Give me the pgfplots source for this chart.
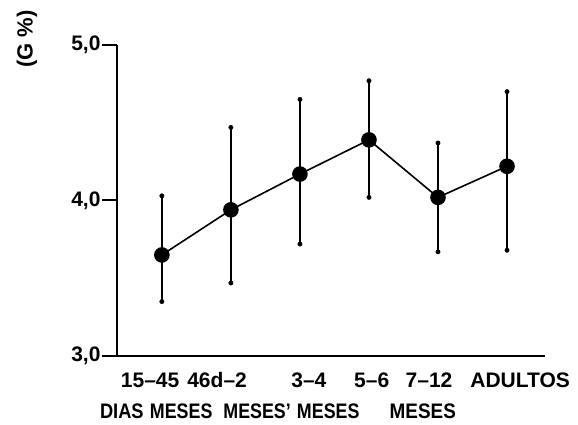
\documentclass[border=0pt]{standalone}
\usepackage{pgfplots}
\pgfplotsset{compat=1.18}
\usepackage{graphicx}
\usepackage{fontspec}
\setmainfont{Liberation Sans}
\tikzset{row2/.style={anchor=north, text height=15pt, text depth=0pt, inner xsep=0pt, font=\fontsize{21}{24}\selectfont\bfseries}}
\pgfplotstableread{
x y ep em
0 3.65 0.38 0.30
1 3.94 0.53 0.47
2 4.17 0.48 0.45
3 4.39 0.38 0.37
4 4.02 0.35 0.35
5 4.22 0.48 0.54
}\datatable
\begin{document}
\begin{tikzpicture}
\begin{axis}[
  scale only axis, width=428pt, height=311pt,
  xmin=-0.65, xmax=5.55, ymin=3, ymax=5,
  axis x line=bottom, axis y line=left,
  axis line style={-, line width=2pt},
  ytick={3,4,5}, yticklabels={{3,0},{4,0},{5,0}},
  xtick={-0.17,0.80,2.13,3.04,3.87,5.19},
  xticklabels={15--45,46d--2,3--4,5--6,7--12,ADULTOS},
  x tick style={draw=none},
  y tick style={line width=2pt, black},
  tick align=outside, major tick length=15pt,
  yticklabel style={font=\fontsize{21}{24}\selectfont\bfseries, xshift=2pt},
  xticklabel style={font=\fontsize{21}{24}\selectfont\bfseries, text height=15pt, text depth=0pt, yshift=2pt},
  /pgf/number format/assume math mode=true,
  clip=false,
]
\addplot[black, line width=1.6pt, mark=*, mark size=7pt,
  error bars/.cd, y dir=both, y explicit,
  error bar style={line width=2pt, black},
  error mark=*, error mark options={mark size=2.2pt, black}]
  table[x=x, y=y, y error plus=ep, y error minus=em] {\datatable};
\coordinate (O) at (rel axis cs:0,0);
\node[rotate=90, anchor=center, font=\fontsize{22}{26}\selectfont\bfseries] at ([xshift=-90pt,yshift=6pt]rel axis cs:0,1) {(G \%)};
\node[row2] at ([yshift=-44pt]axis cs:-0.58,3) {\scalebox{0.87}[1]{DIAS}};
\node[row2] at ([yshift=-44pt]axis cs:0.28,3) {\scalebox{0.85}[1]{MESES}};
\node[row2] at ([yshift=-44pt]axis cs:1.38,3) {\scalebox{0.85}[1]{MESES’}};
\node[row2] at ([yshift=-44pt]axis cs:2.41,3) {\scalebox{0.85}[1]{MESES}};
\node[row2] at ([yshift=-44pt]axis cs:3.78,3) {\scalebox{0.9}[1]{MESES}};
\end{axis}
\path ([xshift=-117pt,yshift=-69pt]O) rectangle ([xshift=461pt,yshift=356pt]O);
\end{tikzpicture}
\end{document}
